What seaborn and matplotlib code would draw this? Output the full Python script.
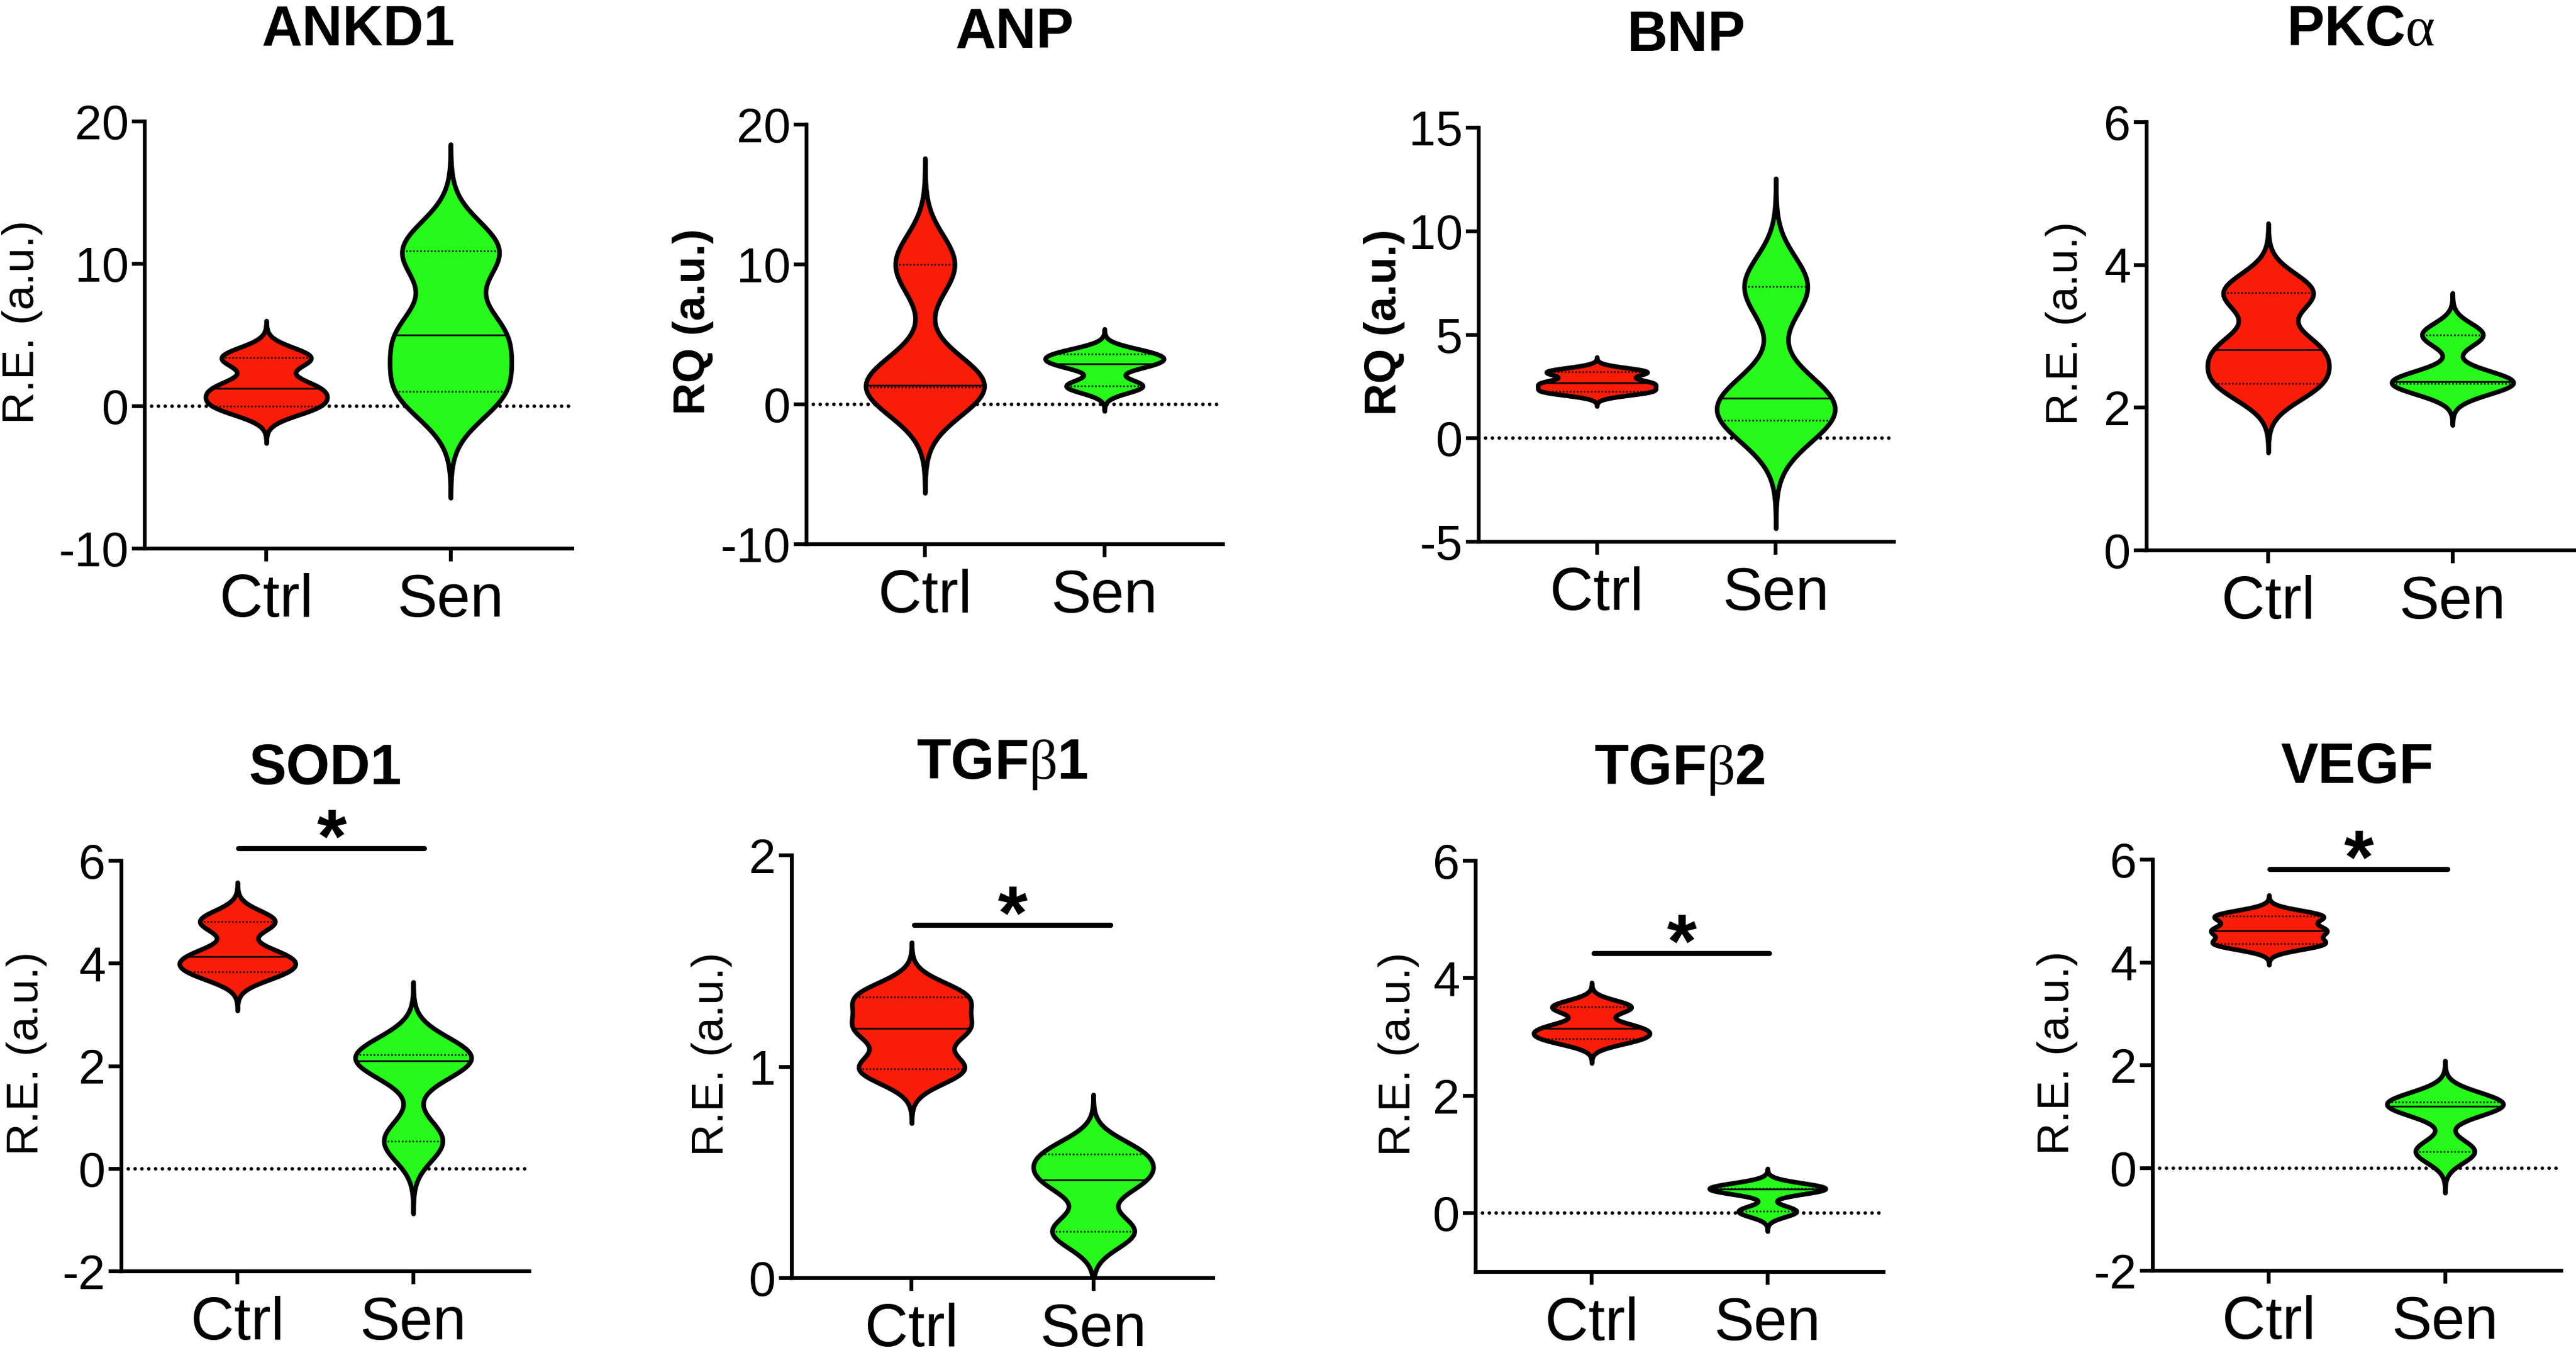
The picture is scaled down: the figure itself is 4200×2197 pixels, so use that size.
import numpy as np
import pandas as pd
import matplotlib
matplotlib.use('Agg')
import matplotlib.pyplot as plt
import seaborn as sns

groups = ['Ctrl', 'Sen']

# values (3 per group, Q1 / median / Q3 sit on the points)
ankd1_ctrl = [0.0, 1.25, 3.4]
ankd1_sen = [1.05, 5.0, 10.9]
anp_ctrl = [1.25, 1.36, 10.0]
anp_sen = [1.3, 2.9, 3.6]
bnp_ctrl = [2.26, 2.66, 3.2]
bnp_sen = [0.87, 1.94, 7.32]
pkca_ctrl = [2.34, 2.81, 3.61]
pkca_sen = [2.34, 2.36, 3.02]
sod1_ctrl = [3.84, 4.14, 4.82]
sod1_sen = [0.54, 2.1, 2.22]
tgfb1_ctrl = [0.99, 1.18, 1.33]
tgfb1_sen = [0.22, 0.463, 0.586]
tgfb2_ctrl = [2.97, 3.15, 3.51]
tgfb2_sen = [0.03, 0.415, 0.42]
vegf_ctrl = [4.36, 4.62, 4.9]
vegf_sen = [0.32, 1.2, 1.28]

titles = ['ANKD1', 'ANP', 'BNP', r'PKC$\mathrm{\alpha}$',
          'SOD1', r'TGF$\mathrm{\beta}$1', r'TGF$\mathrm{\beta}$2', 'VEGF']
ylabels = ['R.E. (a.u.)', 'RQ (a.u.)', 'RQ (a.u.)', 'R.E. (a.u.)',
           'R.E. (a.u.)', 'R.E. (a.u.)', 'R.E. (a.u.)', 'R.E. (a.u.)']
ylims = [(-10, 20), (-10, 20), (-5, 15), (0, 6), (-2, 6), (0, 2), (-1, 6), (-2, 6)]
yticks = [[-10, 0, 10, 20], [-10, 0, 10, 20], [-5, 0, 5, 10, 15], [0, 2, 4, 6],
          [-2, 0, 2, 4, 6], [0, 1, 2], [0, 2, 4, 6], [-2, 0, 2, 4, 6]]
ctrl_values = [ankd1_ctrl, anp_ctrl, bnp_ctrl, pkca_ctrl, sod1_ctrl, tgfb1_ctrl, tgfb2_ctrl, vegf_ctrl]
sen_values = [ankd1_sen, anp_sen, bnp_sen, pkca_sen, sod1_sen, tgfb1_sen, tgfb2_sen, vegf_sen]

# significance bars: (start, end, height) in data units, None when not shown
sig_bars = [None, None, None, None,
            (0.007, 1.063, 6.24), (0.014, 1.095, 1.669), (0.014, 1.01, 4.42), (0.007, 1.017, 5.81)]

# layout in pixels of the 4200x2197 canvas: left, right, top, bottom of each plot area
W, H, DPI = 4200, 2197, 300
boxes = [(236, 933, 198, 894), (1315, 1994, 203, 887), (2411, 3088, 208, 883), (3500, 4197, 199, 897),
         (198, 863, 1403, 2072), (1291, 1978, 1394, 2083), (2406, 3071, 1403, 2073), (3510, 4176, 1401, 2071)]
label_x = [-0.238, -0.222, -0.177, -0.141, -0.182, -0.141, -0.138, -0.183]

RED = '#F91D08'
GREEN = '#26FA1A'

sns.set_theme(style='ticks')
plt.rcParams['font.family'] = ['Liberation Sans', 'DejaVu Sans']
plt.rcParams['mathtext.fontset'] = 'custom'
plt.rcParams['mathtext.rm'] = 'Liberation Serif'
plt.rcParams['axes.unicode_minus'] = False
plt.rcParams['text.color'] = 'black'
plt.rcParams['axes.labelcolor'] = 'black'
plt.rcParams['axes.edgecolor'] = 'black'
plt.rcParams['xtick.color'] = 'black'
plt.rcParams['ytick.color'] = 'black'

fig = plt.figure(figsize=(W / DPI, H / DPI), dpi=DPI)

for i in range(len(titles)):
    l, r, t, b = boxes[i]
    ax = fig.add_axes([l / W, 1 - b / H, (r - l) / W, (b - t) / H])

    ctrl, sen = ctrl_values[i], sen_values[i]
    df = pd.DataFrame({'group': ['Ctrl'] * len(ctrl) + ['Sen'] * len(sen),
                       'value': ctrl + sen})
    sns.violinplot(data=df, x='group', y='value', hue='group', order=groups, hue_order=groups,
                   palette=[RED, GREEN], saturation=1, inner=None, cut=3.6, bw_adjust=0.523,
                   density_norm='width', width=0.66, gridsize=400, linewidth=1.8,
                   linecolor='black', legend=False, ax=ax)

    # quartile lines across the violin (Q1/Q3 dotted, median solid)
    by_pos = {0: ctrl, 1: sen}
    for coll in list(ax.collections):
        v = coll.get_paths()[0].vertices
        pos = int(round(v[:, 0].mean()))
        q1, med, q3 = np.percentile(by_pos[pos], [25, 50, 75], method='weibull')
        right = v[v[:, 0] > pos]
        idx = np.argsort(right[:, 1])
        ys, xs = right[idx, 1], right[idx, 0]
        for level, solid in [(q1, False), (q3, False), (med, True)]:
            hw = np.interp(level, ys, xs) - pos
            if solid:
                ax.plot([pos - hw, pos + hw], [level, level], color='black', lw=0.65, zorder=3)
            else:
                ax.plot([pos - hw, pos + hw], [level, level], color='black', lw=0.6,
                        dashes=(1, 1.3), zorder=3)

    lo, hi = ylims[i]
    if lo < 0:
        ax.axhline(0, color='black', lw=1.4, dashes=(0.01, 1.9), dash_capstyle='round', zorder=0.5)

    ax.set_xlim(-0.66, 1.66)
    ax.set_ylim(lo, hi)
    ax.set_yticks(yticks[i])
    ax.set_xlabel('')
    bold_label = ylabels[i].startswith('RQ')
    ax.set_ylabel(ylabels[i], fontsize=17.5, fontweight='bold' if bold_label else 'normal')
    ax.yaxis.set_label_coords(label_x[i], 0.53)
    ax.set_title(titles[i], fontsize=22, fontweight='bold', pad=30)

    sns.despine(ax=ax)
    for side in ['left', 'bottom']:
        ax.spines[side].set_linewidth(1.5)
    ax.tick_params(axis='both', width=1.5, length=5)
    ax.tick_params(axis='y', labelsize=19, pad=1.2)
    ax.tick_params(axis='x', labelsize=23.5, pad=4.5)

    if sig_bars[i] is not None:
        x0, x1, yb = sig_bars[i]
        ax.plot([x0, x1], [yb, yb], color='black', lw=2, solid_capstyle='round', clip_on=False)
        ax.annotate('*', xy=((x0 + x1) / 2, yb), xytext=(0, -5.5), textcoords='offset points',
                    ha='center', va='baseline', fontsize=30, fontweight='bold',
                    annotation_clip=False)

fig.savefig('out.png', dpi=DPI, facecolor='white')
